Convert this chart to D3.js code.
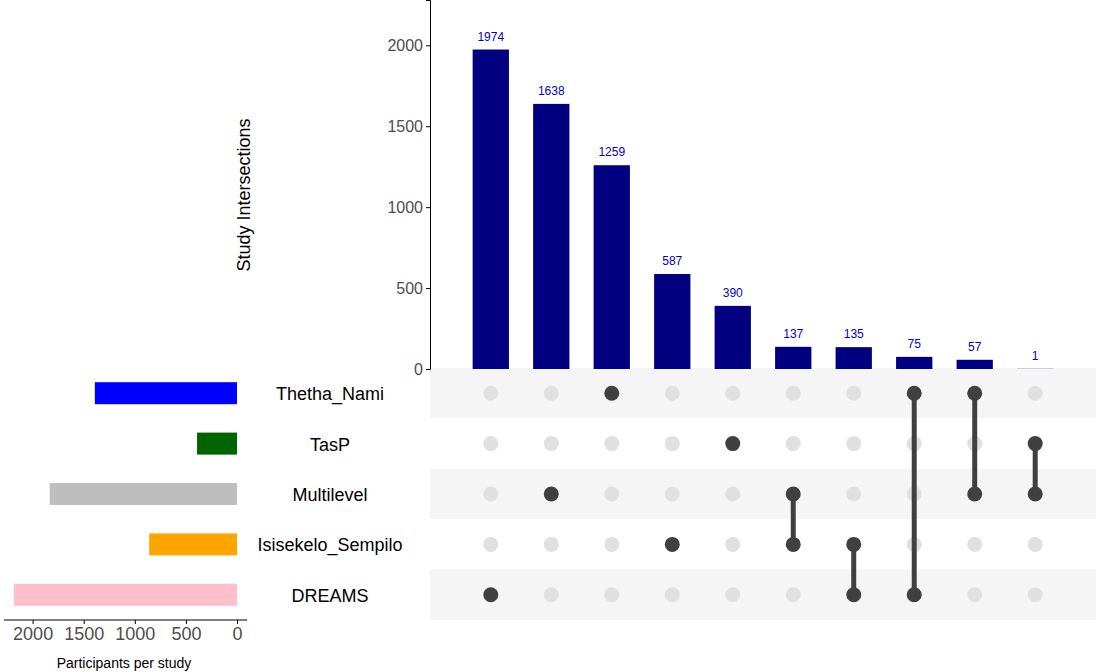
<!DOCTYPE html>
<html><head><meta charset="utf-8">
<script src="https://cdn.jsdelivr.net/npm/d3@7"></script>
<style>body{margin:0;background:#fff}text{font-family:Arial,"Liberation Sans",sans-serif}</style>
</head><body><svg id="c" width="1096" height="672"></svg>
<script>
// sets listed top to bottom in the matrix
var sets=['Thetha_Nami','TasP','Multilevel','Isisekelo_Sempilo','DREAMS']
var setColors=['#0000ff','#006400','#bebebe','#ffa500','#ffc0cb']
var interCounts=[1974,1638,1259,587,390,137,135,75,57,1]
var interMembers=[['DREAMS'],['Multilevel'],['Thetha_Nami'],['Isisekelo_Sempilo'],['TasP'],
  ['Multilevel','Isisekelo_Sempilo'],['Isisekelo_Sempilo','DREAMS'],['Thetha_Nami','DREAMS'],
  ['Thetha_Nami','Multilevel'],['TasP','Multilevel']]
var mainTicks=[0,500,1000,1500,2000]
var setTicks=[2000,1500,1000,500,0]

var setSizes=sets.map(function(s){
	return d3.sum(interCounts.filter(function(c,i){return interMembers[i].indexOf(s)>=0}))
})

var svg=d3.select('#c')
var x=d3.scaleBand().domain(d3.range(interCounts.length)).range([430,1096]).paddingInner(0.4).paddingOuter(0.705)
var y=d3.scaleLinear().domain([0,2280]).range([369,0])
var rowY=d3.scaleBand().domain(sets).range([368,620])

// stripes
svg.selectAll('.stripe').data(sets).enter().append('rect')
	.attr('x',430).attr('width',666).attr('y',function(d){return rowY(d)}).attr('height',rowY.bandwidth())
	.attr('fill',function(d,i){return i%2==0?'#f5f5f5':'#fff'})

// main bars
svg.selectAll('.bar').data(interCounts).enter().append('rect')
	.attr('x',function(d,i){return x(i)}).attr('width',x.bandwidth())
	.attr('y',function(d){return y(d)}).attr('height',function(d){return y(0)-y(d)})
	.attr('fill','#000080')
svg.selectAll('.lab').data(interCounts).enter().append('text')
	.attr('x',function(d,i){return x(i)+x.bandwidth()/2}).attr('y',function(d){return y(d)-9})
	.attr('text-anchor','middle').attr('font-size',12).attr('fill','#0000cc').text(function(d){return d})

var ax=svg.append('g').attr('transform','translate(430,0)').call(d3.axisLeft(y).tickValues(mainTicks).tickSize(4).tickFormat(d3.format('d')))
ax.select('.domain').attr('stroke','#000')
ax.selectAll('text').attr('font-size',16).attr('fill','#4d4d4d')
svg.append('text').attr('transform','translate(250,195) rotate(-90)').attr('text-anchor','middle')
	.attr('font-size',18).text('Study Intersections')

// matrix
var cx=function(i){return x(i)+x.bandwidth()/2}
var cy=function(s){return rowY(s)+rowY.bandwidth()/2}
interMembers.forEach(function(m,i){
	sets.forEach(function(s){
		svg.append('circle').attr('cx',cx(i)).attr('cy',cy(s)).attr('r',7.5)
			.attr('fill',m.indexOf(s)>=0?'#404040':'#e0e0e0')
	})
	if(m.length>1){
		var ys=m.map(cy)
		svg.append('line').attr('x1',cx(i)).attr('x2',cx(i)).attr('y1',d3.min(ys)).attr('y2',d3.max(ys))
			.attr('stroke','#404040').attr('stroke-width',5)
	}
})

// set size bars
var sx=d3.scaleLinear().domain([0,2280]).range([237,4])
svg.selectAll('.sbar').data(setSizes).enter().append('rect')
	.attr('x',function(d){return sx(d)}).attr('width',function(d){return sx(0)-sx(d)})
	.attr('y',function(d,i){return cy(sets[i])-11}).attr('height',22)
	.attr('fill',function(d,i){return setColors[i]})
svg.selectAll('.sname').data(sets).enter().append('text')
	.attr('x',330).attr('y',function(d){return cy(d)+7}).attr('text-anchor','middle')
	.attr('font-size',18).text(function(d){return d})
var sax=svg.append('g').attr('transform','translate(0,620)').call(d3.axisBottom(sx).tickValues(setTicks).tickSize(4).tickFormat(d3.format('d')))
sax.select('.domain').attr('d','M4,0H247')
sax.selectAll('text').attr('font-size',18).attr('fill','#4d4d4d')
svg.append('text').attr('x',124).attr('y',668).attr('text-anchor','middle').attr('font-size',14).text('Participants per study')
</script></body></html>
